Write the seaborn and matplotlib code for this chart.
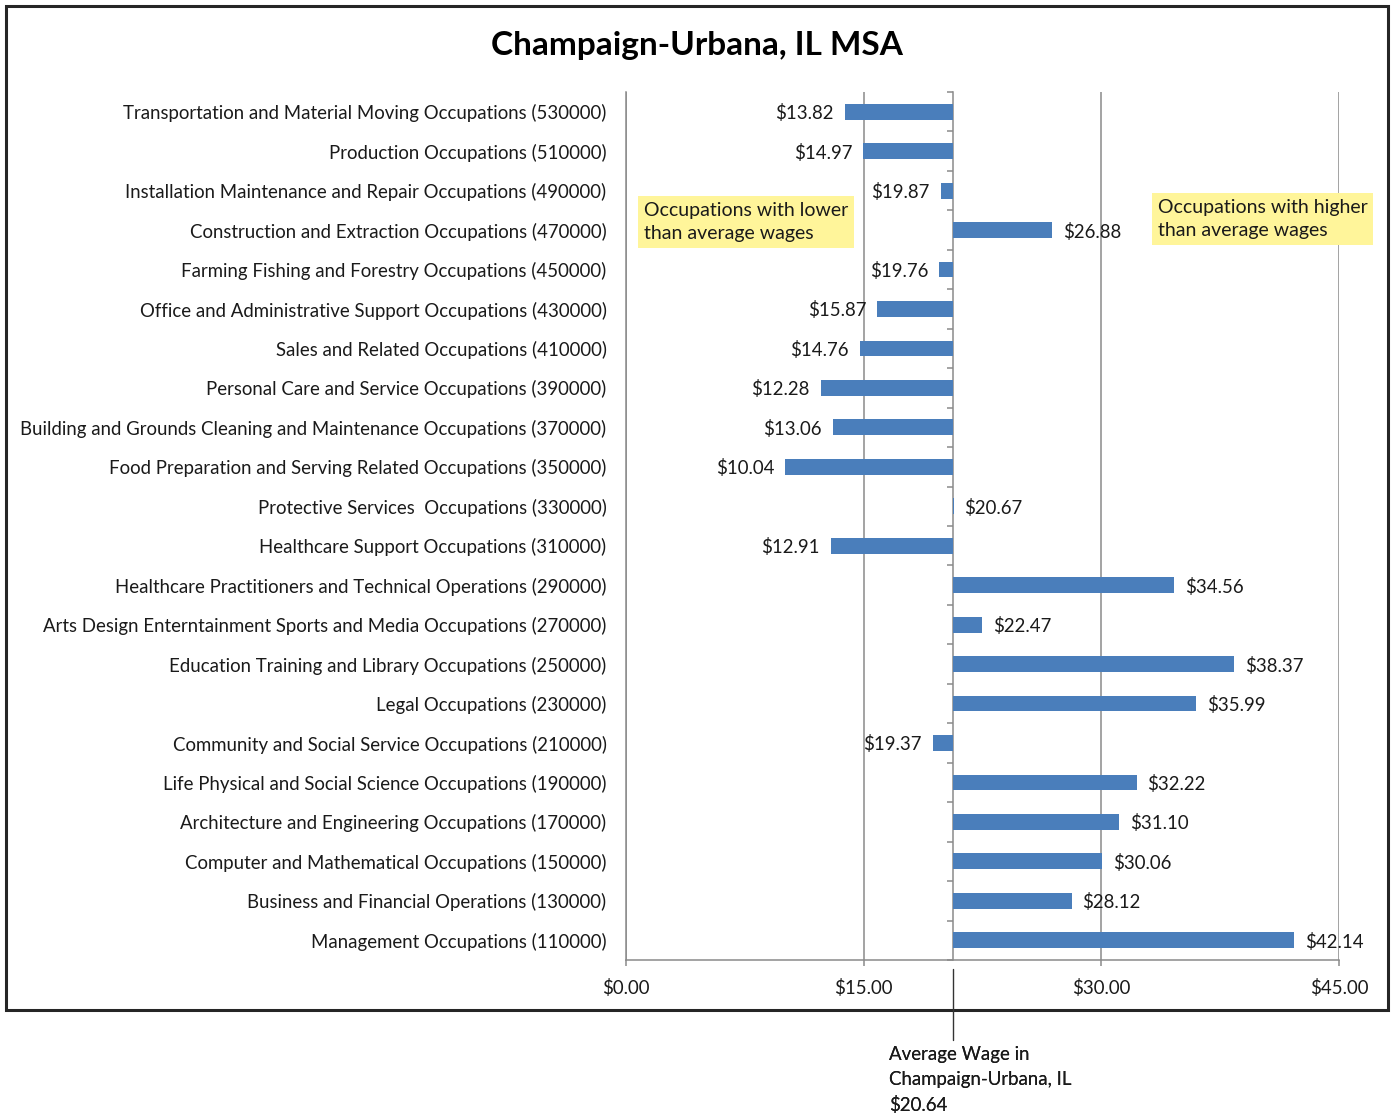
import matplotlib
matplotlib.use("Agg")
import matplotlib.pyplot as plt
import matplotlib.transforms as mtransforms
from matplotlib.patches import Rectangle
from matplotlib.lines import Line2D
import numpy as np
import pandas as pd
import seaborn as sns

# Occupation groups (SOC code) and their average hourly wages
occupations = [
    "Transportation and Material Moving Occupations (530000)",
    "Production Occupations (510000)",
    "Installation Maintenance and Repair Occupations (490000)",
    "Construction and Extraction Occupations (470000)",
    "Farming Fishing and Forestry Occupations (450000)",
    "Office and Administrative Support Occupations (430000)",
    "Sales and Related Occupations (410000)",
    "Personal Care and Service Occupations (390000)",
    "Building and Grounds Cleaning and Maintenance Occupations (370000)",
    "Food Preparation and Serving Related Occupations (350000)",
    "Protective Services  Occupations (330000)",
    "Healthcare Support Occupations (310000)",
    "Healthcare Practitioners and Technical Operations (290000)",
    "Arts Design Enterntainment Sports and Media Occupations (270000)",
    "Education Training and Library Occupations (250000)",
    "Legal Occupations (230000)",
    "Community and Social Service Occupations (210000)",
    "Life Physical and Social Science Occupations (190000)",
    "Architecture and Engineering Occupations (170000)",
    "Computer and Mathematical Occupations (150000)",
    "Business and Financial Operations (130000)",
    "Management Occupations (110000)",
]
wages = [
    13.82, 14.97, 19.87, 26.88, 19.76, 15.87, 14.76, 12.28, 13.06, 10.04,
    20.67, 12.91, 34.56, 22.47, 38.37, 35.99, 19.37, 32.22, 31.10, 30.06,
    28.12, 42.14,
]
average_wage = 20.64

x_ticks = [0, 15, 30, 45]
x_tick_labels = ["$0.00", "$15.00", "$30.00", "$45.00"]
title = "Champaign-Urbana, IL MSA"
lower_note = "Occupations with lower\nthan average wages"
higher_note = "Occupations with higher\nthan average wages"
average_note = f"Average Wage in\nChampaign-Urbana, IL\n${average_wage:.2f}"

BAR = "#4A7EBB"
GRID = "#8A8A8A"
TEXT = "#1A1A1A"
NOTE_BG = "#FFF59A"
FS = 13.4

sns.set_theme(style="white")
plt.rcParams["font.family"] = ["Lato", "DejaVu Sans"]

fig = plt.figure(figsize=(13.95, 11.15), dpi=100)
W, H = 1395.0, 1115.0
ax = fig.add_axes([626 / W, 1 - 960 / H, (1339 - 626) / W, (960 - 92) / H])

df = pd.DataFrame({"occupation": occupations, "wage": wages})
sns.barplot(data=df, x="wage", y="occupation", order=occupations,
            color=BAR, saturation=1, width=0.4, ax=ax, zorder=3)

# Bars grow out of the area average rather than zero
for patch in ax.patches:
    idx = int(round(patch.get_y() + patch.get_height() / 2))
    patch.set_x(average_wage)
    patch.set_width(wages[idx] - average_wage)
    patch.set_edgecolor("none")

n = len(occupations)
ax.set_xlim(0, 45)
ax.set_ylim(n - 0.5, -0.5)
ax.set_xticks(x_ticks, x_tick_labels)
ax.set_xlabel("")
ax.set_ylabel("")
ax.xaxis.grid(True, color=GRID, lw=1.1, zorder=0)
ax.yaxis.grid(False)
ax.set_axisbelow(True)
for side in ("top", "right"):
    ax.spines[side].set_visible(False)
for side in ("left", "bottom"):
    ax.spines[side].set_color(GRID)
    ax.spines[side].set_linewidth(1.1)
ax.tick_params(axis="y", length=0, pad=14, labelsize=FS, labelcolor=TEXT)
ax.tick_params(axis="x", bottom=True, length=4, width=1.1, color=GRID,
               direction="out", pad=10, labelsize=FS, labelcolor=TEXT)

# Vertical axis at the average wage with ticks between categories
sec = ax.secondary_yaxis(average_wage, transform=ax.transData)
sec.set_alignment("left")
sec.spines["left"].set_color(GRID)
sec.spines["left"].set_linewidth(1.1)
sec.set_yticks(np.arange(n + 1) - 0.5, labels=[])
sec.tick_params(axis="y", length=4, width=1.1, color=GRID, direction="out")

# Value labels outside the end of each bar
for i, w in enumerate(wages):
    above = w >= average_wage
    ax.annotate(f"${w:.2f}", xy=(w, i), xytext=(11 if above else -11, 0),
                textcoords="offset pixels", ha="left" if above else "right",
                va="center_baseline", fontsize=FS, color=TEXT, zorder=4)

# Highlighted notes
note_box = dict(boxstyle="square,pad=0.3", fc=NOTE_BG, ec="none")
ax.text(1.15, 2.8, lower_note, ha="left", va="center", fontsize=FS + 0.6,
        color=TEXT, linespacing=1.45, bbox=note_box, zorder=5)
ax.text(33.55, 2.72, higher_note, ha="left", va="center", fontsize=FS + 0.6,
        color=TEXT, linespacing=1.45, bbox=note_box, zorder=5)

# Title and frame
fig.text(697 / W, 1 - 45 / H, title, ha="center", va="center",
         fontsize=24, fontweight="bold", color="#000000")
fig.add_artist(Rectangle((6 / W, 1 - 1010 / H), (1388 - 6) / W, (1010 - 6) / H,
                         transform=fig.transFigure, fill=False,
                         ec="#262626", lw=2.2))

# Callout for the average wage below the chart
trans = mtransforms.blended_transform_factory(ax.transData, fig.transFigure)
fig.add_artist(Line2D([average_wage, average_wage], [1 - 969 / H, 1 - 1040 / H],
                      transform=trans, color="#333333", lw=1.0))
fig.add_artist(ax.annotate(average_note, xy=(average_wage, 1 - 1046 / H),
                           xycoords=trans, xytext=(-64, 0),
                           textcoords="offset pixels", ha="left", va="top",
                           fontsize=FS, color=TEXT, linespacing=1.55,
                           annotation_clip=False))

fig.savefig("out.png", dpi=100)
